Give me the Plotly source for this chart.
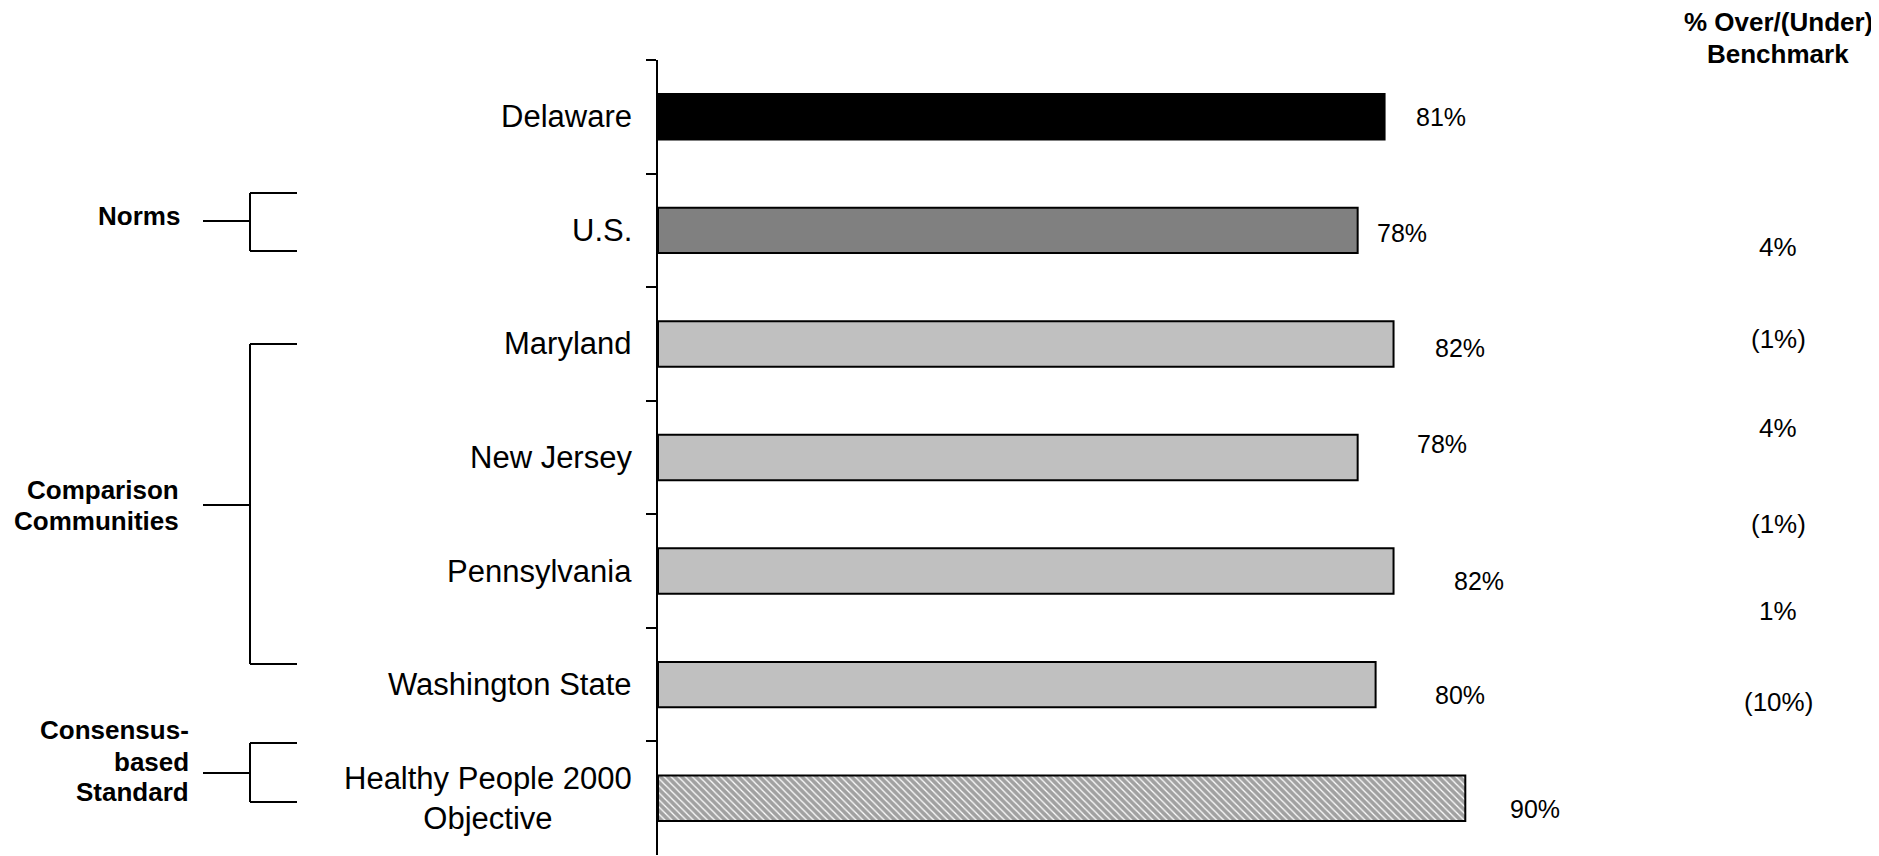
import plotly.graph_objects as go

# ---- data ----
categories = ["Delaware", "U.S.", "Maryland", "New Jersey", "Pennsylvania",
              "Washington State", "Healthy People 2000<br>Objective"]
values = [81, 78, 82, 78, 82, 80, 90]
value_labels = ["81%", "78%", "82%", "78%", "82%", "80%", "90%"]
bench_categories = ["U.S.", "Maryland", "New Jersey", "Pennsylvania",
                    "Washington State", "Healthy People 2000<br>Objective"]
bench_labels = ["4%", "(1%)", "4%", "(1%)", "1%", "(10%)"]
bench_header = ["% Over/(Under)", "Benchmark"]
groups = [["Norms"], ["Comparison", "Communities"], ["Consensus-", "based", "Standard"]]

# ---- styles / layout (pixel positions in the 1879x856 page) ----
fills = ["#000000", "#808080", "#C0C0C0", "#C0C0C0", "#C0C0C0", "#C0C0C0", "#FFFFFF"]
patterns = ["", "", "", "", "", "", "\\"]
label_xshift = [29, 17, 39, 57, 58, 57, 43]
label_yshift = [0, -3, -4, 14, -10, -10, -11]
bench_yshift = [-17, 5, 30, 47, 74, 96]
header_y = [22, 54]
group_text_right = [182, 181, 191]
group_text_y = [[216], [490, 521], [730, 762, 792]]
brackets = [(221, 193, 251), (505, 344, 664), (773, 743, 802)]

OFF = 8  # page body margin
W, H = 1879 - OFF, 856 - OFF
L, R, T, B = 658 - OFF, 324, 60 - OFF, 1
PW, PH = W - L - R, H - T - B
FONT = "Liberation Sans, Arial, sans-serif"


def px(x):
    return (x - OFF - L) / PW


def py(y):
    return 1 - (y - OFF - T) / PH


fig = go.Figure()
fig.add_trace(go.Bar(
    x=values, y=categories, orientation="h", width=0.4,
    marker=dict(color=fills, line=dict(color="black", width=2),
                pattern=dict(shape=patterns, fgcolor="black", bgcolor="white",
                             size=5, solidity=0.75)),
    hoverinfo="skip",
))

annotations = []
for c, v, t, dx, dy in zip(categories, values, value_labels, label_xshift, label_yshift):
    annotations.append(dict(x=v, y=c, xref="x", yref="y", text=t, showarrow=False,
                            xanchor="left", xshift=dx, yshift=dy,
                            font=dict(size=25, color="black", family=FONT)))
for c in categories:
    annotations.append(dict(x=px(634), y=c, xref="paper", yref="y", text=c,
                            showarrow=False, xanchor="right", align="center",
                            font=dict(size=31, color="black", family=FONT)))
for c, t, dy in zip(bench_categories, bench_labels, bench_yshift):
    annotations.append(dict(x=px(1778), y=c, xref="paper", yref="y", text=t,
                            showarrow=False, xanchor="center", yshift=dy,
                            font=dict(size=26, color="black", family=FONT)))
for t, yy in zip(bench_header, header_y):
    annotations.append(dict(x=px(1778), y=py(yy), xref="paper", yref="paper",
                            text="<b>" + t + "</b>", showarrow=False,
                            xanchor="center", yanchor="middle",
                            font=dict(size=26, color="black", family=FONT)))

for lines, gx, ys in zip(groups, group_text_right, group_text_y):
    for t, yy in zip(lines, ys):
        annotations.append(dict(x=px(gx), y=py(yy), xref="paper", yref="paper",
                                text="<b>" + t + "</b>", showarrow=False,
                                xanchor="right", yanchor="middle",
                                font=dict(size=26, color="black", family=FONT)))

shapes = []
line = dict(color="black", width=2)
for mid, top, bot in brackets:
    shapes.append(dict(type="line", xref="paper", yref="paper",
                       x0=px(203), x1=px(250), y0=py(mid), y1=py(mid), line=line))
    shapes.append(dict(type="line", xref="paper", yref="paper",
                       x0=px(250), x1=px(250), y0=py(top), y1=py(bot), line=line))
    for yy in (top, bot):
        shapes.append(dict(type="line", xref="paper", yref="paper",
                           x0=px(250), x1=px(297), y0=py(yy), y1=py(yy), line=line))

fig.update_layout(
    width=W, height=H,
    margin=dict(l=L, r=R, t=T, b=B),
    paper_bgcolor="white", plot_bgcolor="white",
    showlegend=False,
    xaxis=dict(range=[0, 100], visible=False, fixedrange=True),
    yaxis=dict(range=[6.5, -0.5], autorange=False, showline=True, linecolor="black",
               linewidth=2, ticks="outside", tickson="boundaries", ticklen=10,
               tickwidth=2, tickcolor="black", showticklabels=False,
               showgrid=False, zeroline=False, fixedrange=True),
    annotations=annotations, shapes=shapes,
)

fig.write_html("out.html")
